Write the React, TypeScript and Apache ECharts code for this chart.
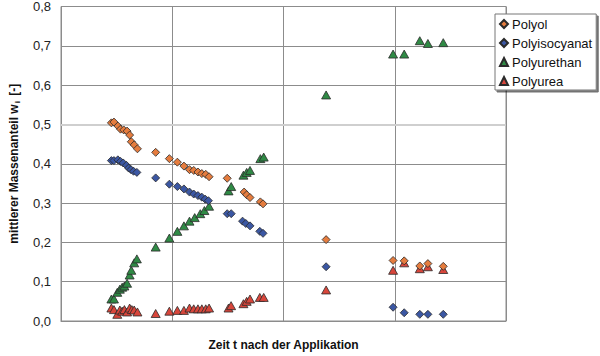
import React, { useEffect, useRef } from "react";
import * as echarts from "echarts";

const seriesNames = ["Polyol", "Polyisocyanat", "Polyurethan", "Polyurea"];

const polyolT = [0.453, 0.476, 0.511, 0.535, 0.564, 0.594, 0.617, 0.632, 0.658, 0.687, 0.851, 0.974, 1.046, 1.105, 1.155, 1.193, 1.231, 1.266, 1.301, 1.331, 1.494, 1.646, 1.669, 1.699, 1.792, 1.816, 2.383, 2.985, 3.085, 3.225, 3.298, 3.436];
const polyolW = [0.504, 0.506, 0.496, 0.488, 0.486, 0.483, 0.473, 0.456, 0.448, 0.438, 0.429, 0.413, 0.404, 0.394, 0.385, 0.383, 0.379, 0.375, 0.373, 0.367, 0.363, 0.328, 0.321, 0.314, 0.303, 0.298, 0.207, 0.154, 0.153, 0.140, 0.146, 0.139];

const isoT = [0.453, 0.476, 0.511, 0.535, 0.559, 0.588, 0.608, 0.629, 0.652, 0.682, 0.851, 0.974, 1.046, 1.105, 1.155, 1.193, 1.231, 1.266, 1.296, 1.325, 1.494, 1.53, 1.632, 1.661, 1.699, 1.787, 1.816, 2.383, 2.985, 3.085, 3.225, 3.298, 3.436];
const isoW = [0.408, 0.408, 0.410, 0.406, 0.402, 0.396, 0.389, 0.385, 0.381, 0.378, 0.364, 0.348, 0.342, 0.336, 0.328, 0.323, 0.319, 0.315, 0.310, 0.306, 0.273, 0.273, 0.254, 0.248, 0.242, 0.228, 0.223, 0.138, 0.035, 0.021, 0.017, 0.017, 0.017];

const urethanT = [0.453, 0.476, 0.506, 0.529, 0.55, 0.57, 0.594, 0.617, 0.632, 0.658, 0.682, 0.851, 0.974, 1.046, 1.105, 1.155, 1.202, 1.252, 1.289, 1.331, 1.506, 1.53, 1.64, 1.669, 1.699, 1.792, 1.822, 2.383, 2.985, 3.085, 3.225, 3.298, 3.436];
const urethanW = [0.056, 0.056, 0.073, 0.081, 0.086, 0.089, 0.096, 0.117, 0.129, 0.148, 0.158, 0.188, 0.211, 0.228, 0.242, 0.254, 0.263, 0.273, 0.281, 0.292, 0.331, 0.342, 0.371, 0.378, 0.383, 0.413, 0.417, 0.575, 0.679, 0.679, 0.713, 0.706, 0.708];

const ureaT = [0.453, 0.476, 0.506, 0.529, 0.55, 0.57, 0.594, 0.617, 0.637, 0.658, 0.687, 0.851, 0.974, 1.046, 1.105, 1.155, 1.193, 1.231, 1.266, 1.301, 1.331, 1.506, 1.529, 1.64, 1.669, 1.699, 1.787, 1.822, 2.383, 2.985, 3.085, 3.225, 3.298, 3.436];
const ureaW = [0.033, 0.029, 0.017, 0.028, 0.025, 0.029, 0.023, 0.033, 0.029, 0.028, 0.023, 0.019, 0.025, 0.027, 0.027, 0.033, 0.031, 0.031, 0.031, 0.031, 0.033, 0.033, 0.039, 0.044, 0.050, 0.056, 0.060, 0.060, 0.079, 0.129, 0.148, 0.133, 0.138, 0.131];

const yTicks = [0, 0.1, 0.2, 0.3, 0.4, 0.5, 0.6, 0.7, 0.8];
const xTitle = "Zeit t nach der Applikation";
const yTitle = "mittlerer Massenanteil w";

const zip = (a: number[], b: number[]) => a.map((v, i) => [v, b[i]]);

export default function App() {
  const ref = useRef<HTMLDivElement>(null);
  useEffect(() => {
    if (!ref.current) return;
    const chart = echarts.init(ref.current, null, { renderer: "svg", width: 600, height: 356 });
    const font = "'Liberation Sans', Arial, sans-serif";
    const mk = (name: string, t: number[], w: number[], symbol: string, size: number | number[], color: string, z: number) => ({
      name,
      type: "scatter",
      data: zip(t, w),
      symbol,
      symbolSize: size,
      z,
      itemStyle: { color, borderColor: "#2a2a2a", borderWidth: 0.8, opacity: 1 },
    });
    chart.setOption({
      animation: false,
      backgroundColor: "#ffffff",
      grid: { left: 49, width: 457, top: 5, height: 320, show: true, borderColor: "#8c8c8c", borderWidth: 1 },
      legend: {
        orient: "vertical",
        left: 495,
        top: 14,
        data: seriesNames,
        backgroundColor: "#ffffff",
        borderColor: "#777777",
        borderWidth: 1,
        borderRadius: 0,
        shadowColor: "rgba(0,0,0,0.55)",
        shadowOffsetX: 2,
        shadowOffsetY: 2,
        shadowBlur: 0,
        padding: [3, 4, 2, 4],
        itemGap: 5,
        itemWidth: 8,
        itemHeight: 8,
        textStyle: { fontFamily: font, fontSize: 13, color: "#111", lineHeight: 14, padding: [0, 0, 0, -1] },
      },
      xAxis: {
        type: "value",
        min: 0,
        max: 4,
        interval: 1,
        name: xTitle,
        nameLocation: "middle",
        nameGap: 18,
        nameTextStyle: { fontFamily: font, fontSize: 12, fontWeight: "bold", color: "#111" },
        axisLine: { show: true, lineStyle: { color: "#8c8c8c" } },
        axisTick: { show: false },
        axisLabel: { show: false },
        splitLine: { show: true, lineStyle: { color: "#8c8c8c", width: 1 } },
      },
      yAxis: {
        type: "value",
        min: 0,
        max: 0.8,
        interval: 0.1,
        name: yTitle + "{s|i} [-]",
        nameLocation: "middle",
        nameGap: 40,
        nameTextStyle: {
          fontFamily: font,
          fontSize: 12,
          fontWeight: "bold",
          color: "#111",
          rich: { s: { fontFamily: font, fontSize: 8, fontWeight: "bold", color: "#111", padding: [6, 2, 0, 1] } },
        },
        axisLine: { show: true, lineStyle: { color: "#8c8c8c" } },
        axisTick: { show: false },
        axisLabel: {
          fontFamily: font,
          fontSize: 13,
          color: "#222",
          margin: 10,
          formatter: (v: number) => (yTicks.includes(Math.round(v * 10) / 10) ? v.toFixed(1).replace(".", ",") : ""),
        },
        splitLine: { show: true, lineStyle: { color: ["#8c8c8c", "#8c8c8c", "#8c8c8c", "#8c8c8c", "#8c8c8c", "#cfcfcf", "#8c8c8c", "#8c8c8c", "#8c8c8c"], width: 1 } },
      },
      series: [
        {
          type: "scatter",
          data: [],
          z: 1,
          silent: true,
          markLine: {
            silent: true,
            symbol: "none",
            label: { show: false },
            lineStyle: { color: "#cfcfcf", width: 2, type: "solid" },
            data: [{ yAxis: 0.5 }],
          },
        },
        mk("Polyurea", ureaT, ureaW, "triangle", [9, 8], "#d8463b", 2),
        mk("Polyurethan", urethanT, urethanW, "triangle", [9, 8], "#2f8a45", 3),
        mk("Polyisocyanat", isoT, isoW, "diamond", [8, 8], "#3b57a3", 4),
        mk("Polyol", polyolT, polyolW, "diamond", [8, 8], "#e57c3e", 5),
      ],
    });
    return () => chart.dispose();
  }, []);
  return <div ref={ref} style={{ position: "fixed", left: 0, top: 0, width: 600, height: 356 }} />;
}
